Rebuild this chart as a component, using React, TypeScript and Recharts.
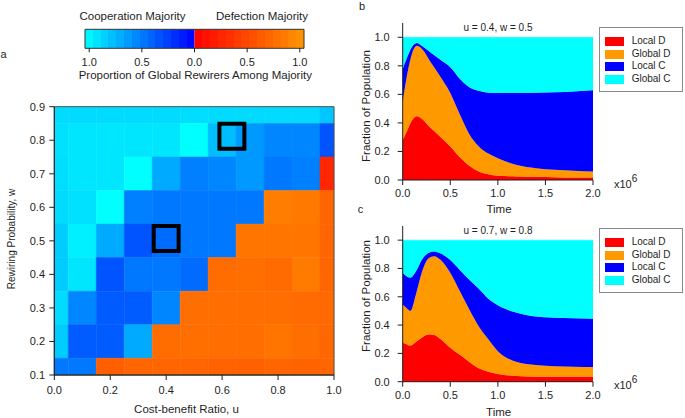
import React from 'react';
import { ComposedChart, AreaChart, Area, Scatter, XAxis, YAxis, ReferenceArea, Legend } from 'recharts';

// ---- panel a: heatmap (u across, w down) ----
const uValues = [0, 0.1, 0.2, 0.3, 0.4, 0.5, 0.6, 0.7, 0.8, 0.9, 1.0];
const wValues = [0.9, 0.8, 0.7, 0.6, 0.5, 0.4, 0.3, 0.2, 0.1];
// proportion of global rewirers among the majority: negative = cooperation majority, positive = defection majority
const row09 = [-0.86, -0.86, -0.86, -0.86, -0.86, -0.87, -0.86, -0.86, -0.86, -0.86, -0.78];
const row08 = [-0.88, -0.9, -0.9, -0.9, -0.9, -1.0, -0.74, -0.6, -0.53, -0.53, -0.33];
const row07 = [-0.87, -0.9, -0.9, -1.0, -0.67, -0.5, -0.53, -0.6, -0.47, -0.5, 0.25];
const row06 = [-0.86, -0.88, -1.0, -0.5, -0.47, -0.47, -0.47, -0.47, 0.83, 0.8, 0.67];
const row05 = [-0.8, -0.94, -0.67, -0.33, -0.42, -0.47, -0.47, 0.78, 0.78, 0.78, 0.67];
const row04 = [-0.8, -0.9, -0.33, -0.47, -0.47, -0.42, 0.72, 0.74, 0.71, 0.82, 0.68];
const row03 = [-0.86, -0.53, -0.36, -0.36, -0.53, 0.73, 0.73, 0.73, 0.73, 0.71, 0.7];
const row02 = [-0.8, -0.36, -0.36, -0.67, 0.72, 0.74, 0.73, 0.73, 0.78, 0.73, 0.69];
const row01 = [-0.47, -0.47, 0.63, 0.67, 0.67, 0.67, 0.66, 0.64, 0.67, 0.66, 0.67];
const heatRows = [row09, row08, row07, row06, row05, row04, row03, row02, row01];

// the two highlighted parameter sets
const highlightU = [0.4, 0.635];
const highlightW = [0.507, 0.812];

const uTicks = [0, 0.2, 0.4, 0.6, 0.8, 1.0];
const wTicks = [0.1, 0.2, 0.3, 0.4, 0.5, 0.6, 0.7, 0.8, 0.9];
const barTicks = [-1, -0.5, 0, 0.5, 1];

// ---- panels b and c: time series (x10^6) ----
const timeB = [0, 0.05, 0.1, 0.15, 0.2, 0.3, 0.4, 0.5, 0.6, 0.7, 0.8, 0.9, 1.0, 1.2, 1.4, 1.6, 1.8, 2.0];
const localDB = [0.28, 0.35, 0.42, 0.447, 0.43, 0.36, 0.3, 0.235, 0.16, 0.1, 0.06, 0.04, 0.03, 0.025, 0.022, 0.02, 0.018, 0.017];
const globalDB = [0.27, 0.4, 0.47, 0.493, 0.49, 0.46, 0.42, 0.375, 0.3, 0.22, 0.175, 0.145, 0.123, 0.08, 0.061, 0.052, 0.047, 0.042];
const localCB = [0.226, 0.115, 0.045, 0.02, 0.02, 0.07, 0.12, 0.18, 0.25, 0.33, 0.39, 0.427, 0.457, 0.505, 0.529, 0.543, 0.555, 0.569];
const globalCB = [0.224, 0.135, 0.065, 0.04, 0.06, 0.11, 0.16, 0.21, 0.29, 0.35, 0.375, 0.388, 0.39, 0.39, 0.388, 0.385, 0.38, 0.372];

const timeC = [0, 0.04, 0.08, 0.14, 0.2, 0.27, 0.33, 0.4, 0.5, 0.6, 0.7, 0.8, 0.9, 1.0, 1.2, 1.4, 1.6, 1.8, 2.0];
const localDC = [0.275, 0.265, 0.255, 0.28, 0.31, 0.333, 0.33, 0.3, 0.24, 0.19, 0.14, 0.095, 0.07, 0.055, 0.04, 0.035, 0.035, 0.035, 0.035];
const globalDC = [0.27, 0.255, 0.245, 0.34, 0.46, 0.537, 0.557, 0.56, 0.53, 0.45, 0.37, 0.295, 0.23, 0.161, 0.1, 0.083, 0.075, 0.071, 0.069];
const localCC = [0.225, 0.225, 0.235, 0.16, 0.09, 0.04, 0.033, 0.045, 0.09, 0.15, 0.21, 0.266, 0.286, 0.324, 0.347, 0.342, 0.342, 0.342, 0.341];
const globalCC = [0.23, 0.255, 0.265, 0.22, 0.14, 0.09, 0.08, 0.095, 0.14, 0.21, 0.28, 0.344, 0.414, 0.46, 0.513, 0.54, 0.548, 0.552, 0.555];

const timeTicks = [0, 0.5, 1.0, 1.5, 2.0];
const fracTicks = [0, 0.2, 0.4, 0.6, 0.8, 1.0];

const layers = [
  { key: 'localD', name: 'Local D', color: '#ff0000' },
  { key: 'globalD', name: 'Global D', color: '#ff9900' },
  { key: 'localC', name: 'Local C', color: '#0000ff' },
  { key: 'globalC', name: 'Global C', color: '#00ffff' },
];

const dataB = timeB.map((t, i) => ({ t, localD: localDB[i], globalD: globalDB[i], localC: localCB[i], globalC: globalCB[i] }));
const dataC = timeC.map((t, i) => ({ t, localD: localDC[i], globalD: globalDC[i], localC: localCC[i], globalC: globalCC[i] }));

const cells = wValues.flatMap((w, r) => uValues.map((u, c) => ({ u, w, v: heatRows[r][c] })));
const barPoints = barTicks.map((x) => ({ x, y: 0.5 }));

const cellColor = (v: number) =>
  v < 0 ? `rgb(0,${Math.round(255 * -v)},255)` : `rgb(255,${Math.round(150 * v)},0)`;

const fmt1 = (v: number) => v.toFixed(1);
const INK = '#1e1e1e';
const tickStyle = { fill: INK, fontSize: 11 };
const HALF_U = 0.05;
const HALF_W = 0.05;
const BOX_U = 0.0446;
const BOX_W = 0.0373;
const STEPS = 14;
const noShape = () => <g />;

const stops = (side: 'coop' | 'def') =>
  Array.from({ length: STEPS }).flatMap((_, i) => {
    const p = side === 'coop' ? 1 - (i + 0.5) / STEPS : (i + 0.5) / STEPS;
    const col = cellColor(side === 'coop' ? -p : p);
    return [
      <stop key={`${i}a`} offset={i / STEPS} stopColor={col} />,
      <stop key={`${i}b`} offset={(i + 1) / STEPS} stopColor={col} />,
    ];
  });

const Txt = ({ x, y, size = 11.5, rotate = false, left = false, children }: any) => (
  <div
    style={{
      position: 'absolute',
      left: x,
      top: y,
      transform: left ? 'translate(0,-50%)' : rotate ? 'translate(-50%,-50%) rotate(-90deg)' : 'translate(-50%,-50%)',
      fontSize: size,
      lineHeight: 1,
      whiteSpace: 'nowrap',
      color: INK,
    }}
  >
    {children}
  </div>
);

const LegendBox = () => (
  <div
    style={{
      width: 84,
      height: 64.5,
      boxSizing: 'border-box',
      border: '1px solid #8a8a8a',
      background: '#fff',
      padding: '7.2px 0 0 4.7px',
    }}
  >
    {layers.map((l) => (
      <div key={l.key} style={{ display: 'flex', alignItems: 'center', height: 12.5 }}>
        <span style={{ width: 19, height: 9, background: l.color, marginRight: 7.7, flex: 'none' }} />
        <span style={{ fontSize: 10, color: INK, lineHeight: '12.5px' }}>{l.name}</span>
      </div>
    ))}
  </div>
);

const TimePanel = ({ data, top, plotTop, axisH, legendTop }: any) => (
  <div style={{ position: 'absolute', left: 340, top }}>
    <AreaChart width={345} height={218} data={data} margin={{ top: plotTop, right: 92, left: 0, bottom: 0 }}>
      <XAxis
        dataKey="t"
        type="number"
        domain={[0, 2]}
        ticks={timeTicks}
        tickFormatter={fmt1}
        height={axisH}
        tickSize={5}
        tickMargin={4}
        stroke={INK}
        tick={tickStyle}
      />
      <YAxis
        type="number"
        domain={[0, 1.1]}
        ticks={fracTicks}
        tickFormatter={fmt1}
        width={62.7}
        tickSize={5}
        tickMargin={8}
        stroke={INK}
        tick={tickStyle}
      />
      {layers.map((l) => (
        <Area
          key={l.key}
          dataKey={l.key}
          name={l.name}
          stackId="pop"
          type="monotone"
          fill={l.color}
          fillOpacity={1}
          stroke={l.color}
          strokeWidth={0.4}
          isAnimationActive={false}
        />
      ))}
      <Legend
        layout="horizontal"
        verticalAlign="middle"
        align="center"
        content={() => <LegendBox />}
        wrapperStyle={{ left: 259.3, top: legendTop, width: 84, height: 64.5 }}
      />
    </AreaChart>
  </div>
);

export default function App() {
  return (
    <div
      style={{
        position: 'absolute',
        left: 0,
        top: 0,
        width: 685,
        height: 418,
        background: '#fff',
        overflow: 'hidden',
        fontFamily: '"Liberation Sans", Arial, sans-serif',
      }}
    >
      {/* colour bar */}
      <div style={{ position: 'absolute', left: 0, top: 0 }}>
        <ComposedChart width={345} height={90} margin={{ top: 29.3, right: 41, left: 85, bottom: 0 }}>
          <defs>
            <linearGradient id="coopGrad" x1="0" y1="0" x2="1" y2="0">
              {stops('coop')}
            </linearGradient>
            <linearGradient id="defGrad" x1="0" y1="0" x2="1" y2="0">
              {stops('def')}
            </linearGradient>
          </defs>
          <XAxis
            dataKey="x"
            type="number"
            domain={[-1.04, 1.04]}
            ticks={barTicks}
            tickFormatter={(v: number) => Math.abs(v).toFixed(1)}
            axisLine={false}
            height={41.7}
            tickSize={4}
            tickMargin={5.5}
            stroke={INK}
            tick={tickStyle}
          />
          <YAxis dataKey="y" type="number" domain={[0, 1]} hide />
          <Scatter data={barPoints} shape={noShape} isAnimationActive={false} legendType="none" />
          <ReferenceArea x1={-1.04} x2={0} y1={0} y2={1} fill="url(#coopGrad)" fillOpacity={1} stroke="none" />
          <ReferenceArea x1={0} x2={1.04} y1={0} y2={1} fill="url(#defGrad)" fillOpacity={1} stroke="none" />
          <ReferenceArea x1={-1.04} x2={1.04} y1={0} y2={1} fill="none" stroke="#333" strokeWidth={1} />
        </ComposedChart>
      </div>

      {/* panel a heatmap */}
      <div style={{ position: 'absolute', left: 0, top: 90 }}>
        <ComposedChart width={345} height={328} margin={{ top: 16.7, right: 11, left: 0, bottom: 0 }}>
          <XAxis
            dataKey="u"
            type="number"
            domain={[0, 1]}
            ticks={uTicks}
            tickFormatter={fmt1}
            height={43}
            tickSize={5}
            tickMargin={6}
            stroke={INK}
            tick={tickStyle}
          />
          <YAxis
            dataKey="w"
            type="number"
            domain={[0.1, 0.9]}
            ticks={wTicks}
            tickFormatter={fmt1}
            width={54.3}
            tickSize={5}
            tickMargin={4.3}
            stroke={INK}
            tick={tickStyle}
          />
          <Scatter data={cells} shape={noShape} isAnimationActive={false} legendType="none" />
          {cells.map((d, i) => (
            <ReferenceArea
              key={i}
              x1={Math.max(0, d.u - HALF_U)}
              x2={Math.min(1, d.u + HALF_U)}
              y1={Math.max(0.1, d.w - HALF_W)}
              y2={Math.min(0.9, d.w + HALF_W)}
              fill={cellColor(d.v)}
              fillOpacity={1}
              stroke={cellColor(d.v)}
              strokeWidth={0.5}
            />
          ))}
          <ReferenceArea x1={0} x2={1} y1={0.1} y2={0.9} fill="none" stroke="#555" strokeWidth={1} />
          {highlightU.map((u, i) => (
            <ReferenceArea
              key={`h${i}`}
              x1={u - BOX_U}
              x2={u + BOX_U}
              y1={highlightW[i] - BOX_W}
              y2={highlightW[i] + BOX_W}
              fill="none"
              stroke="#000"
              strokeWidth={4}
            />
          ))}
        </ComposedChart>
      </div>

      <TimePanel data={dataB} top={0} plotTop={23} axisH={38} legendTop={27.3} />
      <TimePanel data={dataC} top={200} plotTop={26} axisH={36.3} legendTop={28.3} />

      {/* titles and annotations */}
      <Txt x={132.5} y={16.7}>Cooperation Majority</Txt>
      <Txt x={262} y={16.7}>Defection Majority</Txt>
      <Txt x={195.3} y={75.5}>Proportion of Global Rewirers Among Majority</Txt>
      <Txt x={3.5} y={53.5} size={11}>a</Txt>
      <Txt x={11.5} y={239} size={10} rotate>Rewiring Probability, w</Txt>
      <Txt x={186.5} y={409.5}>Cost-benefit Ratio, u</Txt>

      <Txt x={362} y={6} size={11}>b</Txt>
      <Txt x={498} y={28.3} size={10}>u = 0.4, w = 0.5</Txt>
      <Txt x={366.7} y={105.5} rotate>Fraction of Population</Txt>
      <Txt x={499} y={210}>Time</Txt>
      <Txt x={614} y={183.5} size={11} left>
        x10<span style={{ position: 'relative', top: -6, fontSize: 10 }}>6</span>
      </Txt>

      <Txt x={360.5} y={208.5} size={11}>c</Txt>
      <Txt x={498} y={230.5} size={10}>u = 0.7, w = 0.8</Txt>
      <Txt x={366.7} y={295.5} rotate>Fraction of Population</Txt>
      <Txt x={498.7} y={412.7}>Time</Txt>
      <Txt x={614} y={384.5} size={11} left>
        x10<span style={{ position: 'relative', top: -6, fontSize: 10 }}>6</span>
      </Txt>
    </div>
  );
}
